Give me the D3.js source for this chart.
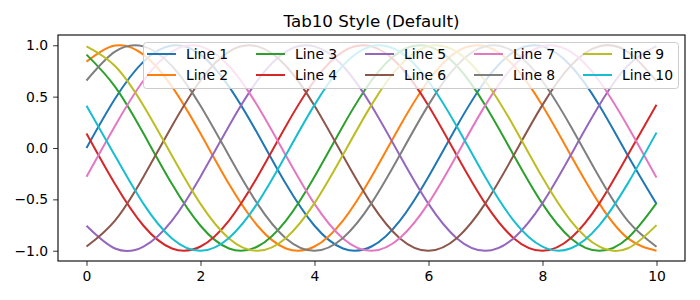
<!DOCTYPE html>
<html>
<head>
    <meta charset="utf-8">
    <title>Tab10 Style (Default)</title>
    <script src="https://d3js.org/d3.v7.min.js"></script>
    <style>
        body { margin: 0; background: #fff; }
        svg text { font-family: "DejaVu Sans", sans-serif; }
        .tick text { font-size: 13.9px; fill: #000; }
        .tick line { stroke: #000; stroke-width: 0.8px; }
        .domain { display: none; }
        .legend-label { font-size: 13.9px; }
    </style>
</head>
<body>
    <svg width="700" height="300"></svg>

    <script>
        // Sample points
        const xValues = [0, 0.5, 1, 1.5, 2, 2.5, 3, 3.5, 4, 4.5, 5, 5.5, 6, 6.5, 7, 7.5, 8, 8.5, 9, 9.5, 10];

        const line1 = [0, 0.479, 0.841, 0.997, 0.909, 0.598, 0.141, -0.351, -0.757, -0.978, -0.959, -0.706, -0.279, 0.215, 0.657, 0.938, 0.989, 0.798, 0.412, -0.075, -0.544];
        const line2 = [0.841, 0.997, 0.909, 0.598, 0.141, -0.351, -0.757, -0.978, -0.959, -0.706, -0.279, 0.215, 0.657, 0.938, 0.989, 0.798, 0.412, -0.075, -0.544, -0.880, -1.000];
        const line3 = [0.909, 0.598, 0.141, -0.351, -0.757, -0.978, -0.959, -0.706, -0.279, 0.215, 0.657, 0.938, 0.989, 0.798, 0.412, -0.075, -0.544, -0.880, -1.000, -0.875, -0.537];
        const line4 = [0.141, -0.351, -0.757, -0.978, -0.959, -0.706, -0.279, 0.215, 0.657, 0.938, 0.989, 0.798, 0.412, -0.075, -0.544, -0.880, -1.000, -0.875, -0.537, -0.066, 0.420];
        const line5 = [-0.757, -0.978, -0.959, -0.706, -0.279, 0.215, 0.657, 0.938, 0.989, 0.798, 0.412, -0.075, -0.544, -0.880, -1.000, -0.875, -0.537, -0.066, 0.420, 0.804, 0.991];
        const line6 = [-0.959, -0.706, -0.279, 0.215, 0.657, 0.938, 0.989, 0.798, 0.412, -0.075, -0.544, -0.880, -1.000, -0.875, -0.537, -0.066, 0.420, 0.804, 0.991, 0.935, 0.650];
        const line7 = [-0.279, 0.215, 0.657, 0.938, 0.989, 0.798, 0.412, -0.075, -0.544, -0.880, -1.000, -0.875, -0.537, -0.066, 0.420, 0.804, 0.991, 0.935, 0.650, 0.207, -0.288];
        const line8 = [0.657, 0.938, 0.989, 0.798, 0.412, -0.075, -0.544, -0.880, -1.000, -0.875, -0.537, -0.066, 0.420, 0.804, 0.991, 0.935, 0.650, 0.207, -0.288, -0.712, -0.961];
        const line9 = [0.989, 0.798, 0.412, -0.075, -0.544, -0.880, -1.000, -0.875, -0.537, -0.066, 0.420, 0.804, 0.991, 0.935, 0.650, 0.207, -0.288, -0.712, -0.961, -0.976, -0.751];
        const line10 = [0.412, -0.075, -0.544, -0.880, -1.000, -0.875, -0.537, -0.066, 0.420, 0.804, 0.991, 0.935, 0.650, 0.207, -0.288, -0.712, -0.961, -0.976, -0.751, -0.342, 0.150];

        const seriesNames = ["Line 1", "Line 2", "Line 3", "Line 4", "Line 5",
                             "Line 6", "Line 7", "Line 8", "Line 9", "Line 10"];
        const seriesValues = [line1, line2, line3, line4, line5, line6, line7, line8, line9, line10];

        const xTicks = [0, 2, 4, 6, 8, 10];
        const yTicks = [-1.0, -0.5, 0.0, 0.5, 1.0];

        const svg = d3.select("svg");
        const plot = { left: 58, right: 685, top: 35, bottom: 261 };

        const x = d3.scaleLinear().domain([-0.5, 10.5]).range([plot.left, plot.right]);
        const y = d3.scaleLinear().domain([-1.1, 1.1]).range([plot.bottom, plot.top]);
        const color = d3.scaleOrdinal().domain(seriesNames).range([
            "#1f77b4", "#ff7f0e", "#2ca02c", "#d62728", "#9467bd",
            "#8c564b", "#e377c2", "#7f7f7f", "#bcbd22", "#17becf"]);

        // Title
        svg.append("text")
            .attr("x", (plot.left + plot.right) / 2)
            .attr("y", 27)
            .attr("text-anchor", "middle")
            .style("font-size", "16.7px")
            .text("Tab10 Style (Default)");

        // Axes
        const fmt = d => d3.format(".1f")(d).replace("-", "\u2212");
        svg.append("g")
            .attr("transform", `translate(0,${plot.bottom})`)
            .call(d3.axisBottom(x).tickValues(xTicks).tickSize(4.9).tickPadding(4.9).tickFormat(d3.format("d")));
        svg.append("g")
            .attr("transform", `translate(${plot.left},0)`)
            .call(d3.axisLeft(y).tickValues(yTicks).tickSize(4.9).tickPadding(4.9).tickFormat(fmt));

        // Lines
        const lineGen = d3.line()
            .x((d, i) => x(xValues[i]))
            .y(d => y(d))
            .curve(d3.curveNatural);

        svg.append("g")
            .selectAll("path")
            .data(seriesValues)
            .enter().append("path")
            .attr("d", lineGen)
            .attr("fill", "none")
            .attr("stroke", (d, i) => color(seriesNames[i]))
            .attr("stroke-width", 2);

        // Frame
        svg.append("rect")
            .attr("x", plot.left)
            .attr("y", plot.top)
            .attr("width", plot.right - plot.left)
            .attr("height", plot.bottom - plot.top)
            .attr("fill", "none")
            .attr("stroke", "#000")
            .attr("stroke-width", 1.1);

        // Legend: 5 columns, 2 rows
        const legend = svg.append("g");
        legend.append("rect")
            .attr("x", 143.5)
            .attr("y", 42.5)
            .attr("width", 535)
            .attr("height", 46)
            .attr("rx", 3)
            .attr("fill", "#fff")
            .attr("fill-opacity", 0.8)
            .attr("stroke", "#cccccc")
            .attr("stroke-width", 1);

        const items = legend.selectAll("g.item")
            .data(seriesNames)
            .enter().append("g")
            .attr("class", "item")
            .attr("transform", (d, i) => {
                const col = Math.floor(i / 2), row = i % 2;
                return `translate(${147 + col * 109},${54 + row * 21})`;
            });
        items.append("line")
            .attr("x1", 0).attr("x2", 29)
            .attr("stroke", d => color(d))
            .attr("stroke-width", 2);
        items.append("text")
            .attr("class", "legend-label")
            .attr("x", 39)
            .attr("dy", "0.35em")
            .text(d => d);
    </script>
</body>
</html>
